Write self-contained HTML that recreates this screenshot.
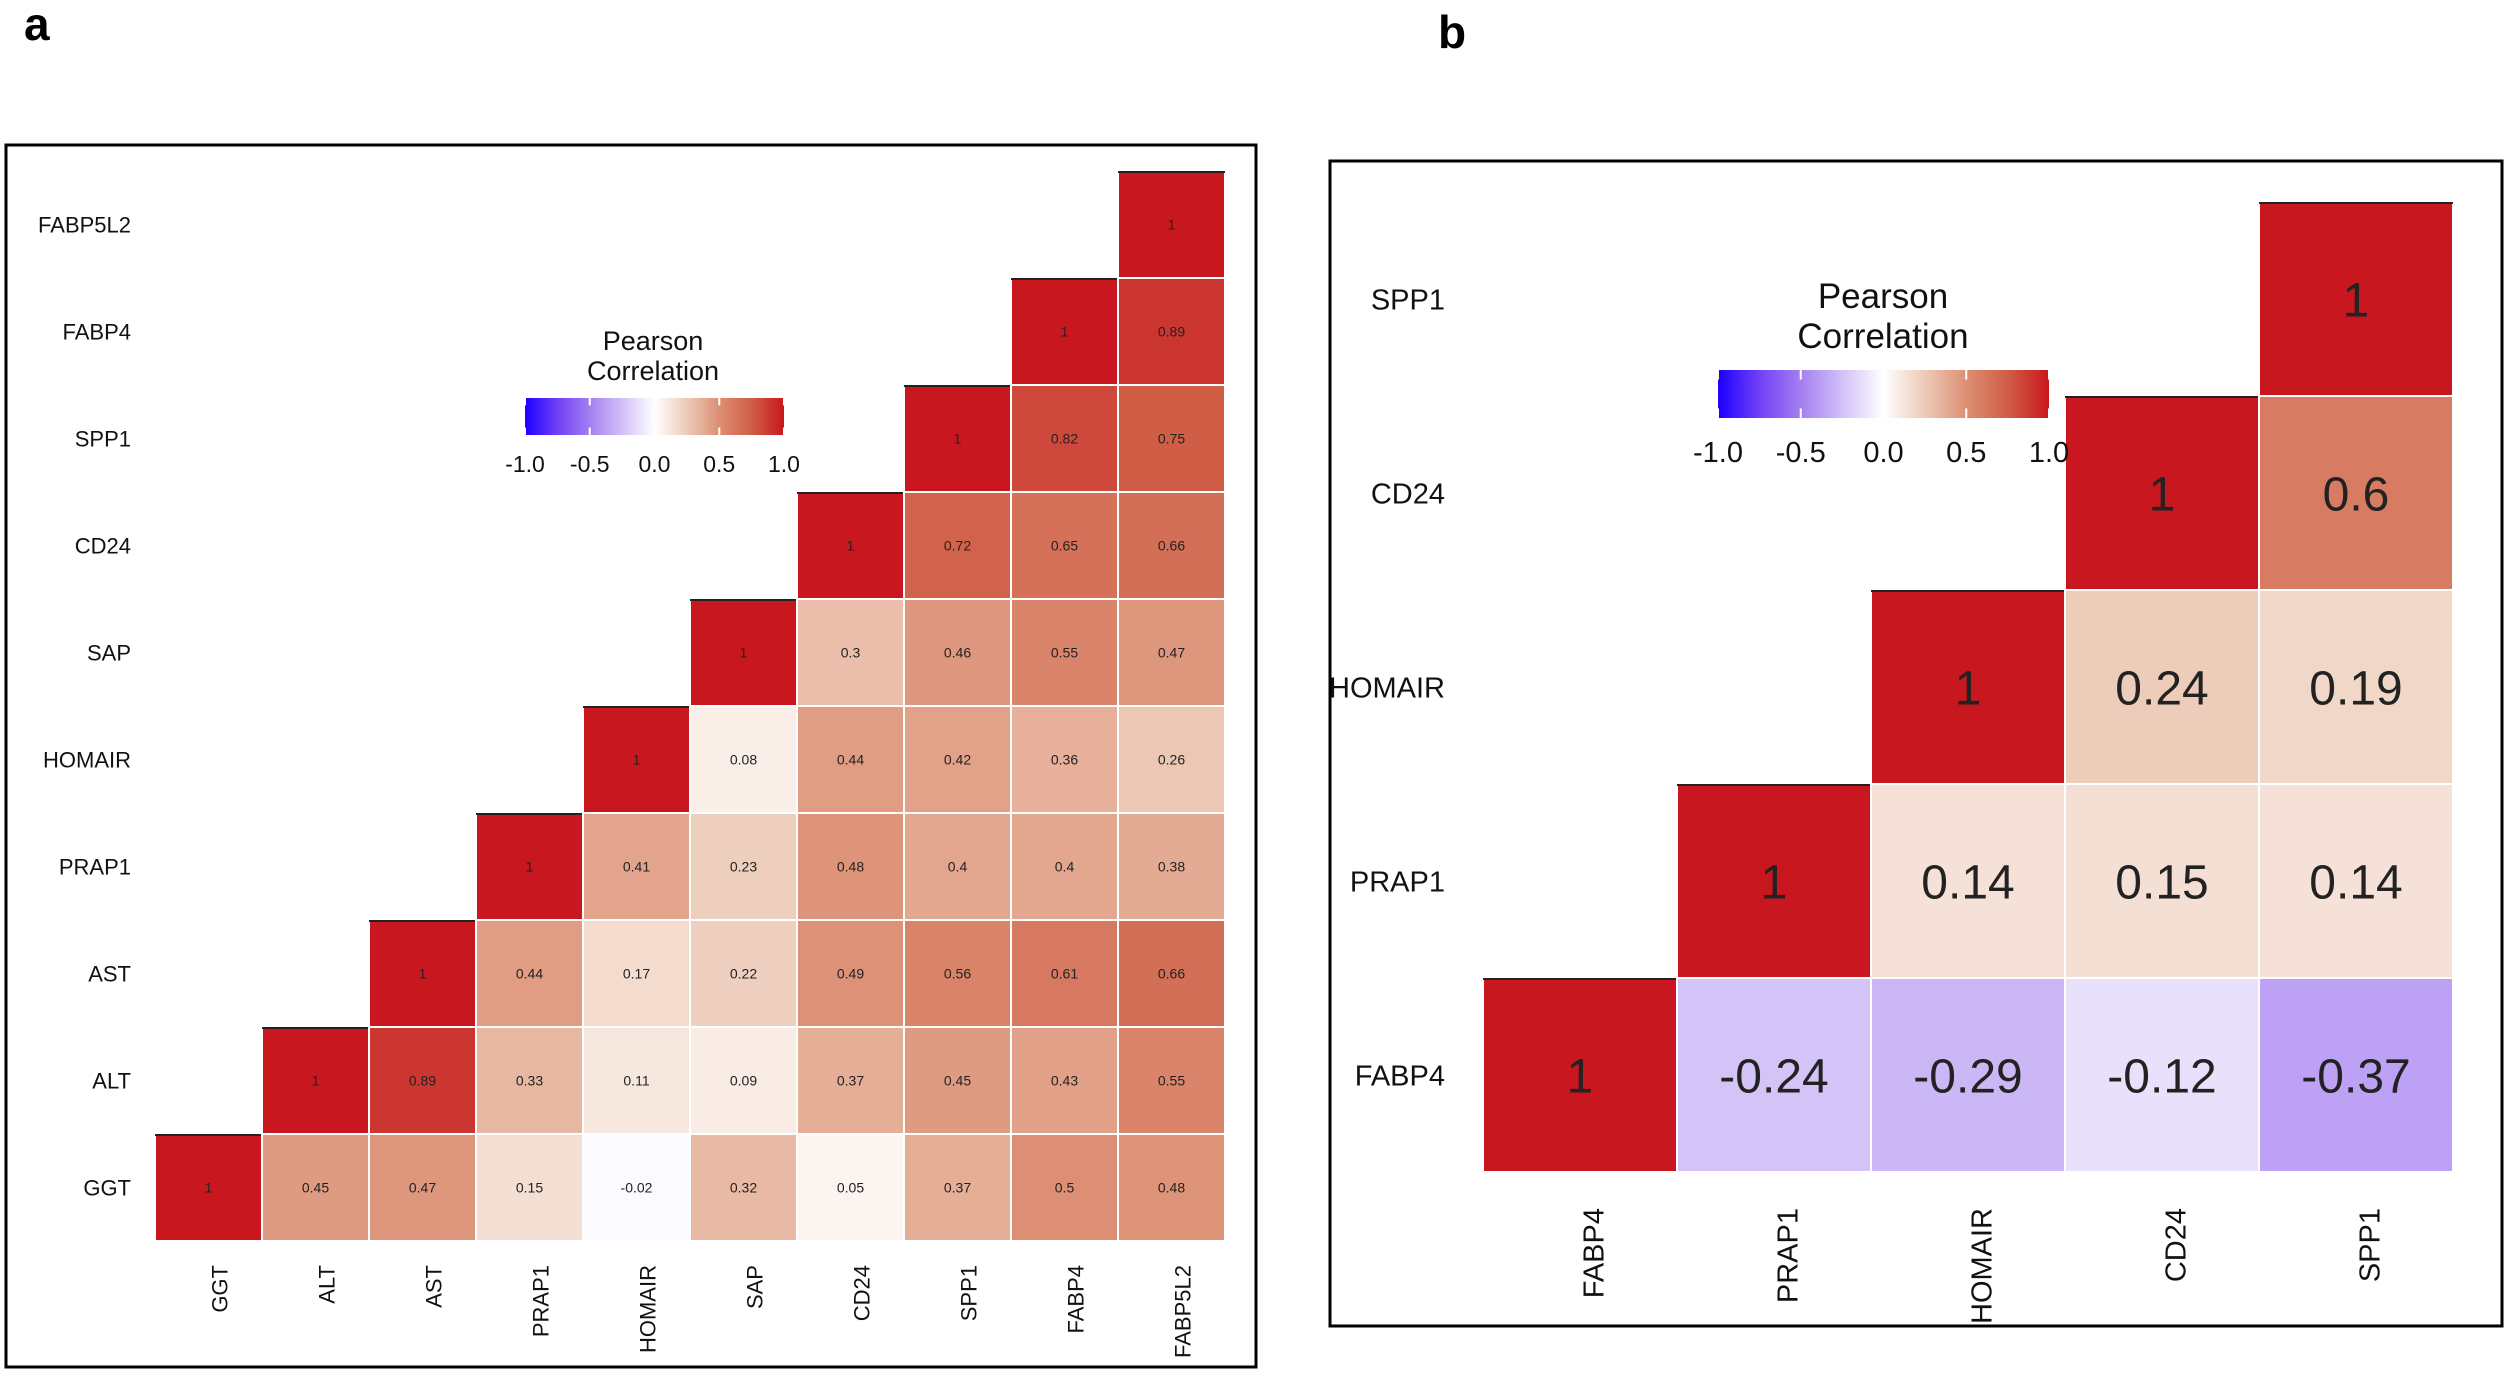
<!DOCTYPE html>
<html><head><meta charset="utf-8"><style>
html,body{margin:0;padding:0;background:#fff;}
svg{display:block;font-family:"Liberation Sans",Arial,sans-serif;}
</style></head><body>
<svg id="fig" width="2508" height="1373" viewBox="0 0 2508 1373" xmlns="http://www.w3.org/2000/svg">
<defs>
<linearGradient id="lg" x1="0" x2="1" y1="0" y2="0">
<stop offset="0" stop-color="#1d00ff"/><stop offset="0.125" stop-color="#7040f6"/><stop offset="0.25" stop-color="#a47ff0"/><stop offset="0.375" stop-color="#d2c0f7"/><stop offset="0.5" stop-color="#ffffff"/><stop offset="0.625" stop-color="#edcab7"/><stop offset="0.75" stop-color="#dc8f74"/><stop offset="0.875" stop-color="#d05d46"/><stop offset="1" stop-color="#c8171e"/>
</linearGradient>
</defs>
<text x="24" y="40" font-size="46" font-weight="bold">a</text>
<text x="1438" y="48" font-size="46" font-weight="bold">b</text>
<rect x="6" y="145" width="1250" height="1222" fill="none" stroke="#000" stroke-width="3"/>
<rect x="1330" y="161" width="1172" height="1165" fill="none" stroke="#000" stroke-width="3"/>
<g id="ga"></g>
<g id="gb"></g>
</svg>
<script>
const varsA = ["GGT","ALT","AST","PRAP1","HOMAIR","SAP","CD24","SPP1","FABP4","FABP5L2"];
const rowsA = [
 [1,0.45,0.47,0.15,-0.02,0.32,0.05,0.37,0.5,0.48],
 [1,0.89,0.33,0.11,0.09,0.37,0.45,0.43,0.55],
 [1,0.44,0.17,0.22,0.49,0.56,0.61,0.66],
 [1,0.41,0.23,0.48,0.4,0.4,0.38],
 [1,0.08,0.44,0.42,0.36,0.26],
 [1,0.3,0.46,0.55,0.47],
 [1,0.72,0.65,0.66],
 [1,0.82,0.75],
 [1,0.89],
 [1]
];
const varsB = ["FABP4","PRAP1","HOMAIR","CD24","SPP1"];
const rowsB = [
 [1,-0.24,-0.29,-0.12,-0.37],
 [1,0.14,0.15,0.14],
 [1,0.24,0.19],
 [1,0.6],
 [1]
];
const legendTicks = [-1.0,-0.5,0.0,0.5,1.0];
const legendTickLabels = ["-1.0","-0.5","0.0","0.5","1.0"];

const NS="http://www.w3.org/2000/svg";
const stops=[[-1,[29,0,255]],[-0.75,[112,64,246]],[-0.5,[164,127,240]],[-0.25,[210,192,247]],[0,[255,255,255]],[0.25,[237,202,183]],[0.5,[220,143,116]],[0.75,[208,93,70]],[1,[200,23,30]]];
function color(v){
  for(let i=0;i<stops.length-1;i++){
    const a=stops[i],b=stops[i+1];
    if(v<=b[0]){const t=(v-a[0])/(b[0]-a[0]);
      const c=a[1].map((x,k)=>Math.round(x+(b[1][k]-x)*t));return `rgb(${c})`;}
  }
  return "rgb(200,23,30)";
}
function mk(tag,attrs,parent){const e=document.createElementNS(NS,tag);for(const k in attrs)e.setAttribute(k,attrs[k]);parent.appendChild(e);return e;}

function heat(g,vars,rows,o){
  const n=vars.length;
  const xS=i=>o.x0+i*o.cw, yS=i=>o.y0+(n-1-i)*o.ch;
  rows.forEach((row,i)=>{
    row.forEach((v,k)=>{
      const j=i+k;
      const r=mk("rect",{x:xS(j),y:yS(i),width:o.cw,height:o.ch,fill:color(v),stroke:"#fff","stroke-width":2},g);
      
      
      if(j===i){const l=mk("line",{x1:xS(j),x2:xS(j)+o.cw,y1:yS(i)+1,y2:yS(i)+1,stroke:"#222","stroke-width":2},g);
        }
      const t=mk("text",{x:xS(j)+o.cw/2,y:yS(i)+o.ch/2+o.fs*0.36,"text-anchor":"middle","font-size":o.fs,fill:"#222"},g);
      t.textContent=String(v);
      
      
    });
  });
  vars.forEach((name,i)=>{
    const t=mk("text",{x:o.rlx,y:yS(i)+o.ch/2+o.lfs*0.36,"text-anchor":"end","font-size":o.lfs,fill:"#111"},g);
    t.textContent=name;
    const cx=xS(i)+o.cw/2+o.lfs*0.36+o.cdx;
    const c=mk("text",{x:cx,y:o.cly,"text-anchor":"end","font-size":o.lfs,fill:"#111",transform:`rotate(-90 ${cx} ${o.cly})`},g);
    c.textContent=name;
  });
  const L=o.leg;
  const t1=mk("text",{x:L.cx,y:L.ty1,"text-anchor":"middle","font-size":L.tfs,fill:"#111"},g);t1.textContent="Pearson";
  
  const t2=mk("text",{x:L.cx,y:L.ty2,"text-anchor":"middle","font-size":L.tfs,fill:"#111"},g);t2.textContent="Correlation";
  
  const bar=mk("rect",{x:L.x,y:L.y,width:L.w,height:L.h,fill:"url(#lg)"},g);
  
  const lx=v=>L.x+(v+1)/2*L.w;
  legendTicks.forEach((v,i)=>{
    const tk=mk("line",{x1:lx(v),x2:lx(v),y1:L.y,y2:L.y+L.h*0.2,stroke:"#fff","stroke-width":2},g);
    
    const tk2=mk("line",{x1:lx(v),x2:lx(v),y1:L.y+L.h*0.8,y2:L.y+L.h,stroke:"#fff","stroke-width":2},g);
    
    const tl=mk("text",{x:lx(v),y:L.ly,"text-anchor":"middle","font-size":L.lfs,fill:"#111"},g);
    tl.textContent=legendTickLabels[i];
  });
}
heat(document.getElementById('ga'),varsA,rowsA,{x0:155,y0:171,cw:107,ch:107,fs:14,lfs:22,rlx:131,cly:1265,cdx:11,
  leg:{cx:653,ty1:350,ty2:380,tfs:27,x:525,y:398,w:259,h:37,ly:472,lfs:23}});
heat(document.getElementById('gb'),varsB,rowsB,{x0:1483,y0:202,cw:194,ch:194,fs:48,lfs:29,rlx:1445,cly:1208,cdx:13,
  leg:{cx:1883,ty1:308,ty2:348,tfs:35,x:1718,y:370,w:331,h:48,ly:462,lfs:29}});
</script>
</body></html>
